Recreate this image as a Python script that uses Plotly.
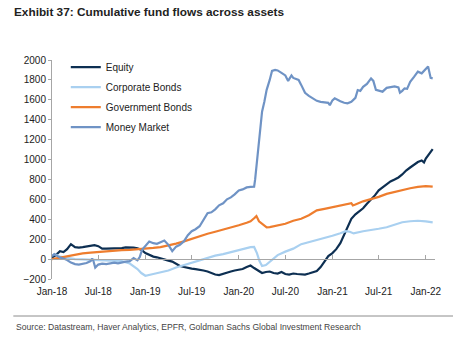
import plotly.graph_objects as go

# Cumulative fund flows (USD bn) by asset class
equity_dates = [
    "2018-01-01", "2018-01-16", "2018-02-01", "2018-02-15", "2018-03-01", "2018-03-16",
    "2018-04-01", "2018-04-16", "2018-05-01", "2018-05-16", "2018-06-01", "2018-06-16",
    "2018-07-01", "2018-07-16", "2018-08-01", "2018-08-16", "2018-09-01", "2018-09-16",
    "2018-10-01", "2018-10-16", "2018-11-01", "2018-11-16", "2018-12-01", "2018-12-16",
    "2019-01-01", "2019-01-16", "2019-02-01", "2019-02-15", "2019-03-01", "2019-03-16",
    "2019-04-01", "2019-04-16", "2019-05-01", "2019-05-16", "2019-06-01", "2019-06-16",
    "2019-07-01", "2019-07-16", "2019-08-01", "2019-08-16", "2019-09-01", "2019-09-16",
    "2019-10-01", "2019-10-16", "2019-11-01", "2019-11-16", "2019-12-01", "2019-12-16",
    "2020-01-01", "2020-01-16", "2020-02-01", "2020-02-16", "2020-03-01", "2020-03-16",
    "2020-04-01", "2020-04-16", "2020-05-01", "2020-05-16", "2020-06-01", "2020-06-16",
    "2020-07-01", "2020-07-16", "2020-08-01", "2020-08-16", "2020-09-01", "2020-09-16",
    "2020-10-01", "2020-10-16", "2020-11-01", "2020-11-16", "2020-12-01", "2020-12-16",
    "2021-01-01", "2021-01-16", "2021-02-01", "2021-02-15", "2021-03-01", "2021-03-16",
    "2021-04-01", "2021-04-16", "2021-05-01", "2021-05-16", "2021-06-01", "2021-06-16",
    "2021-07-01", "2021-07-16", "2021-08-01", "2021-08-16", "2021-09-01", "2021-09-16",
    "2021-10-01", "2021-10-16", "2021-11-01", "2021-11-16", "2021-12-01", "2021-12-16",
    "2021-12-25", "2022-01-01", "2022-01-16", "2022-01-28",
]
equity = [
    15, 40, 80, 70, 100, 150,
    120, 115, 120, 125, 135, 140,
    130, 105, 105, 106, 108, 112,
    110, 118, 120, 115, 108, 95,
    60, 40, 25, 18, 10, 0,
    -15, -25, -45, -70, -80, -90,
    -95, -100, -105, -115, -125, -140,
    -155, -160, -145, -135, -125, -115,
    -110, -100, -80, -65, -90, -115,
    -140, -130, -125, -140, -145, -130,
    -150, -155, -145, -150, -150, -155,
    -145, -130, -120, -80, -20, 30,
    60, 100, 160, 235, 320, 405,
    450, 480, 510, 555, 595, 640,
    690, 720, 750, 780, 800, 820,
    850, 890, 920, 950, 975, 990,
    970, 1010, 1060, 1105,
]

corp_dates = [
    "2018-01-01", "2018-01-12", "2018-02-01", "2018-03-01", "2018-04-01", "2018-05-01",
    "2018-06-01", "2018-07-01", "2018-08-01", "2018-09-01", "2018-10-01", "2018-11-01",
    "2018-12-01", "2018-12-16", "2019-01-01", "2019-02-01", "2019-03-01", "2019-04-01",
    "2019-05-01", "2019-06-01", "2019-07-01", "2019-08-01", "2019-09-01", "2019-10-01",
    "2019-11-01", "2019-12-01", "2020-01-01", "2020-02-01", "2020-02-16", "2020-03-01",
    "2020-03-12", "2020-03-22", "2020-04-01", "2020-04-16", "2020-05-01", "2020-06-01",
    "2020-07-01", "2020-08-01", "2020-09-01", "2020-10-01", "2020-11-01", "2020-12-01",
    "2021-01-01", "2021-02-01", "2021-02-22", "2021-03-10", "2021-03-25", "2021-05-01",
    "2021-06-01", "2021-07-01", "2021-08-01", "2021-09-01", "2021-10-01", "2021-11-01",
    "2021-12-01", "2022-01-01", "2022-01-28",
]
corporate_bonds = [
    35, 50, 25, 10, 0, -3,
    -5, -8, -12, -15, -20, -45,
    -100, -140, -167, -150, -135, -115,
    -85, -60, -38, -10, 10, 35,
    50, 70, 90, 110, 120, 122,
    60, -20, -70, -60, -30, 40,
    75, 105, 150, 170, 195, 215,
    235, 260, 280, 275, 258, 280,
    290, 305, 320, 345, 370, 380,
    385, 378, 368,
]

govt_dates = [
    "2018-01-01", "2018-02-01", "2018-03-01", "2018-04-01", "2018-05-01", "2018-06-01",
    "2018-07-01", "2018-08-01", "2018-09-01", "2018-10-01", "2018-11-01", "2018-12-01",
    "2019-01-01", "2019-02-01", "2019-03-01", "2019-04-01", "2019-05-01", "2019-06-01",
    "2019-07-01", "2019-08-01", "2019-09-01", "2019-10-01", "2019-11-01", "2019-12-01",
    "2020-01-01", "2020-02-01", "2020-02-16", "2020-03-01", "2020-03-10", "2020-03-20",
    "2020-04-01", "2020-04-19", "2020-05-01", "2020-06-01", "2020-07-01", "2020-08-01",
    "2020-09-01", "2020-10-01", "2020-11-01", "2020-12-01", "2021-01-01", "2021-02-01",
    "2021-03-01", "2021-03-16", "2021-03-22", "2021-04-01", "2021-05-01", "2021-06-01",
    "2021-07-01", "2021-08-01", "2021-09-01", "2021-10-01", "2021-11-01", "2021-12-01",
    "2022-01-01", "2022-01-28",
]
government_bonds = [
    0, 15, 33, 42, 58, 65,
    72, 80, 85, 90, 92, 97,
    105, 112, 120, 135, 155, 178,
    205, 235, 255, 275, 295, 318,
    340, 365, 380, 410, 432, 380,
    355, 318, 322, 335, 355, 385,
    405, 440, 490, 505, 522, 535,
    555, 562, 540, 548, 580, 600,
    625, 655, 675, 698, 712, 725,
    733, 727,
]

mm_dates = [
    "2018-01-01", "2018-01-10", "2018-01-16", "2018-02-01", "2018-02-15", "2018-03-01",
    "2018-03-16", "2018-04-01", "2018-04-16", "2018-05-01", "2018-05-16", "2018-06-01",
    "2018-06-07", "2018-06-12", "2018-06-19", "2018-07-01", "2018-07-16", "2018-08-01",
    "2018-08-16", "2018-09-01", "2018-09-16", "2018-10-01", "2018-10-16", "2018-11-01",
    "2018-11-16", "2018-12-01", "2018-12-10", "2018-12-19", "2019-01-01", "2019-01-16",
    "2019-02-01", "2019-02-15", "2019-03-01", "2019-03-16", "2019-04-01", "2019-04-16",
    "2019-05-01", "2019-05-16", "2019-06-01", "2019-06-16", "2019-07-01", "2019-07-16",
    "2019-08-01", "2019-08-16", "2019-09-01", "2019-09-16", "2019-10-01", "2019-10-16",
    "2019-11-01", "2019-11-16", "2019-12-01", "2019-12-16", "2020-01-01", "2020-01-16",
    "2020-02-01", "2020-02-16", "2020-03-01", "2020-03-05", "2020-03-19", "2020-04-01",
    "2020-04-10", "2020-04-19", "2020-05-01", "2020-05-10", "2020-05-22", "2020-06-01",
    "2020-06-16", "2020-07-01", "2020-07-12", "2020-07-25", "2020-08-01", "2020-08-22",
    "2020-09-01", "2020-09-16", "2020-10-01", "2020-10-16", "2020-11-01", "2020-11-16",
    "2020-12-01", "2020-12-16", "2020-12-22", "2021-01-01", "2021-01-10", "2021-01-20",
    "2021-02-01", "2021-02-16", "2021-03-01", "2021-03-16", "2021-04-01", "2021-04-10",
    "2021-04-20", "2021-05-01", "2021-05-16", "2021-06-01", "2021-06-10", "2021-06-20",
    "2021-07-01", "2021-07-16", "2021-08-01", "2021-08-16", "2021-09-01", "2021-09-16",
    "2021-09-22", "2021-10-01", "2021-10-10", "2021-10-20", "2021-11-01", "2021-11-16",
    "2021-12-01", "2021-12-16", "2022-01-01", "2022-01-10", "2022-01-20", "2022-01-28",
]
money_market = [
    30, 50, 40, 15, 5, -10,
    -35, -50, -55, -45, -40, -20,
    5, -20, -85, -55, -45, -50,
    -40, -35, -42, -30, -25, -20,
    10, -13, 20, 93, 130, 177,
    160, 153, 170, 187, 143, 80,
    125, 143, 180, 240, 280, 300,
    330, 400, 460, 470, 500, 540,
    560, 600, 620, 650, 690, 700,
    720, 725, 728, 800, 1150, 1480,
    1580, 1700, 1800, 1890, 1900, 1895,
    1870, 1845, 1790, 1845, 1820, 1800,
    1750, 1670, 1640, 1615, 1590, 1580,
    1575, 1570, 1545, 1595, 1615, 1600,
    1585, 1570, 1565, 1580, 1620, 1698,
    1690, 1730, 1760, 1815, 1790, 1700,
    1690, 1682, 1720, 1730, 1735, 1725,
    1672, 1690, 1715, 1710, 1780, 1830,
    1883, 1866, 1905, 1935, 1820, 1815,
]

y_ticks = [-200, 0, 200, 400, 600, 800, 1000, 1200, 1400, 1600, 1800, 2000]

series = [
    ("Equity", equity_dates, equity, "#0d2f52"),
    ("Corporate Bonds", corp_dates, corporate_bonds, "#a9d0f0"),
    ("Government Bonds", govt_dates, government_bonds, "#ee7d2e"),
    ("Money Market", mm_dates, money_market, "#6f93c5"),
]

fig = go.Figure()
for name, d, v, c in series:
    fig.add_trace(go.Scatter(
        x=d, y=v, name=name, mode="lines", legendgroup=name,
        line=dict(color=c, width=2.2),
    ))

axis_font = dict(family="Liberation Sans, Arial, sans-serif", size=10, color="#222222")
x_range = ["2018-01-01", "2022-02-06"]

fig.update_layout(
    width=453, height=342,
    margin=dict(l=52, r=16, t=60, b=63),
    paper_bgcolor="white", plot_bgcolor="white",
    showlegend=True,
    legend=dict(
        x=0.036, y=1.034, xanchor="left", yanchor="top",
        font=dict(family="Liberation Sans, Arial, sans-serif", size=10, color="#222222"),
        bgcolor="rgba(0,0,0,0)", itemwidth=30, tracegroupgap=1,
    ),
    title=dict(
        text="<b>Exhibit 37: Cumulative fund flows across assets</b>",
        x=14 / 453, xref="container", xanchor="left",
        y=1 - 12 / 342, yref="container", yanchor="middle",
        font=dict(family="Liberation Sans Narrow, Arial Narrow, Liberation Sans, sans-serif",
                  size=11.8, color="#222222"),
    ),
    xaxis=dict(
        type="date", range=x_range, dtick="M6", tick0="2018-01-01",
        tickformat="%b-%y", showgrid=False, showline=False, zeroline=False,
        ticks="outside", ticklen=3, tickcolor="rgba(0,0,0,0)",
        tickfont=axis_font,
    ),
    xaxis2=dict(
        type="date", range=x_range, dtick="M6", tick0="2018-01-01",
        overlaying="x", anchor="free", position=200 / 2200,
        showticklabels=False, showgrid=False, zeroline=False,
        showline=True, linecolor="#a6a6a6", linewidth=1,
        ticks="inside", ticklen=4, tickcolor="#a6a6a6",
    ),
    yaxis=dict(
        range=[-200, 2000], tickvals=y_ticks, showgrid=False, zeroline=False,
        showline=True, linecolor="#a6a6a6", linewidth=1,
        ticks="outside", ticklen=3, tickcolor="#a6a6a6",
        tickfont=axis_font,
    ),
)

# empty trace to bring up the zero-line axis with its half-year ticks
fig.add_trace(go.Scatter(x=[], y=[], xaxis="x2", showlegend=False, hoverinfo="skip"))

fig.add_shape(
    type="line", xref="paper", yref="paper",
    x0=-0.101, x1=1.05, y0=-0.169, y1=-0.169,
    line=dict(color="#8c8c8c", width=1),
)
fig.add_annotation(
    text="Source: Datastream, Haver Analytics, EPFR, Goldman Sachs Global Investment Research",
    xref="paper", yref="paper", x=-0.0987, y=-0.219, xanchor="left", yanchor="middle",
    showarrow=False,
    font=dict(family="Liberation Sans Narrow, Arial Narrow, Liberation Sans, sans-serif",
              size=8.6, color="#444444"),
)

fig.write_html("out.html")
